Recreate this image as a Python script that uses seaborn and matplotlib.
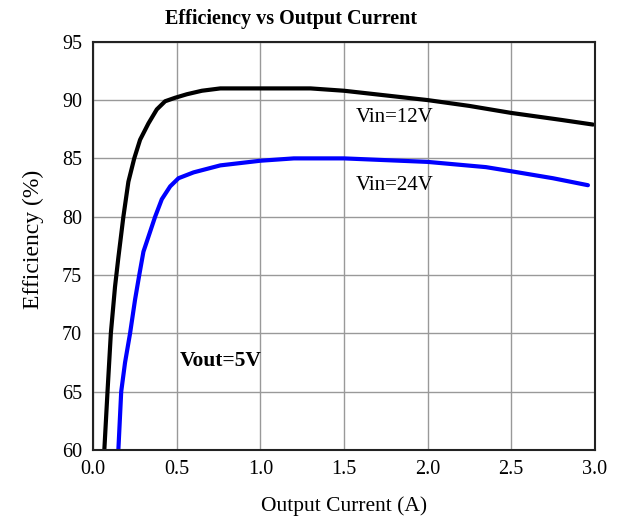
import numpy as np
import pandas as pd
import matplotlib
matplotlib.use("Agg")
import matplotlib.pyplot as plt
import seaborn as sns

# values
current_12v = [0.066, 0.085, 0.105, 0.13, 0.15, 0.18, 0.21, 0.245, 0.28, 0.33, 0.38,
               0.43, 0.49, 0.56, 0.65, 0.76, 1.0, 1.3, 1.5, 1.75, 2.0, 2.25, 2.5,
               2.65, 2.8, 2.99]
eff_12v = [60.0, 65.0, 70.0, 74.0, 76.5, 80.0, 83.0, 85.0, 86.6, 88.0, 89.2,
           89.9, 90.2, 90.5, 90.8, 91.0, 91.0, 91.0, 90.8, 90.4, 90.0, 89.5, 88.9,
           88.6, 88.3, 87.9]

current_24v = [0.15, 0.167, 0.19, 0.22, 0.25, 0.275, 0.30, 0.37, 0.41, 0.46, 0.51,
               0.6, 0.76, 1.0, 1.2, 1.5, 2.0, 2.35, 2.5, 2.75, 2.96]
eff_24v = [60.0, 65.0, 67.5, 70.0, 72.9, 75.0, 77.0, 80.0, 81.5, 82.6, 83.3,
           83.8, 84.4, 84.8, 85.0, 85.0, 84.7, 84.25, 83.9, 83.3, 82.7]

x_ticks = [0.0, 0.5, 1.0, 1.5, 2.0, 2.5, 3.0]
y_ticks = [60, 65, 70, 75, 80, 85, 90, 95]

df = pd.concat([
    pd.DataFrame({"current": current_12v, "eff": eff_12v, "vin": "Vin=12V"}),
    pd.DataFrame({"current": current_24v, "eff": eff_24v, "vin": "Vin=24V"}),
])

sns.set_theme(style="white")
plt.rcParams["font.family"] = ["Liberation Serif", "DejaVu Serif"]
plt.rcParams["text.color"] = "black"

fig, ax = plt.subplots(figsize=(6.22, 5.22), dpi=100)
sns.lineplot(data=df, x="current", y="eff", hue="vin", sort=False,
             palette={"Vin=12V": "#000000", "Vin=24V": "#0000ff"},
             linewidth=3, legend=False, ax=ax,
             solid_capstyle="round", solid_joinstyle="round")

ax.set_xlim(0, 3.0)
ax.set_ylim(60, 95)
ax.set_xticks(x_ticks)
ax.set_xticklabels([f"{v:.1f}" for v in x_ticks])
ax.set_yticks(y_ticks)
ax.grid(True, color="#999999", linewidth=1.0)
ax.tick_params(axis="x", labelsize=14.5, colors="black", length=0, pad=7)
ax.tick_params(axis="y", labelsize=14.5, colors="black", length=0, pad=8)
for s in ax.spines.values():
    s.set_color("#222222")
    s.set_linewidth(1.5)

ax.set_xlabel("Output Current (A)", fontsize=15.5, color="black", labelpad=13)
ax.set_ylabel("Efficiency (%)", fontsize=17, color="black")
ax.yaxis.set_label_coords(-0.099, 0.515)
fig.text(0.468, 0.964, "Efficiency vs Output Current", fontsize=14.5,
         fontweight="bold", ha="center", va="center")

ax.text(1.57, 88.5, "Vin=12V", fontsize=15, ha="left", va="center")
ax.text(1.57, 82.7, "Vin=24V", fontsize=15, ha="left", va="center")
ax.text(0.52, 67.6, "Vout=5V", fontsize=15.5, fontweight="bold", ha="left", va="center")

fig.subplots_adjust(left=0.15, right=0.956, top=0.92, bottom=0.138)
fig.savefig("out.png", dpi=100)
